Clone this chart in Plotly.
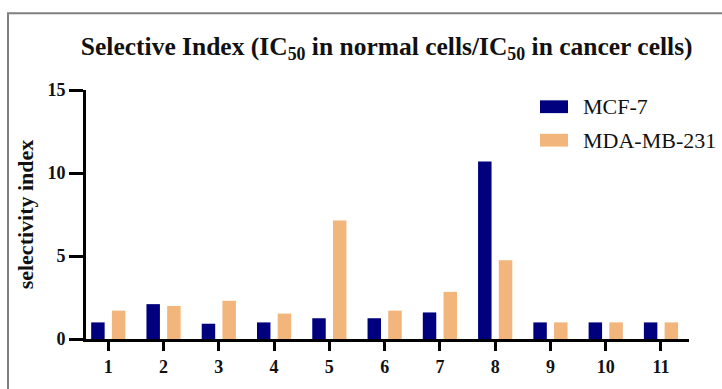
import plotly.graph_objects as go

categories = ["1", "2", "3", "4", "5", "6", "7", "8", "9", "10", "11"]
mcf7 = [1.0, 2.1, 0.92, 1.0, 1.25, 1.25, 1.6, 10.7, 1.0, 1.0, 1.0]
mda = [1.71, 1.99, 2.3, 1.53, 7.14, 1.71, 2.84, 4.74, 1.0, 1.0, 1.0]
series_names = ["MCF-7", "MDA-MB-231"]
y_ticks = [0, 5, 10, 15]

BLUE = "#00007F"
ORANGE = "#F2B57C"
SERIF = "Liberation Serif, Times New Roman, serif"

W, H = 722, 389
L, R, T, B = 86, 33, 90, 46
pw, ph = W - L - R, H - T - B


def px_x(p):
    return (p - L) / pw


def px_y(p):
    return (H - B - p) / ph


fig = go.Figure()
fig.add_trace(go.Bar(x=categories, y=mcf7, name=series_names[0], marker_color=BLUE,
                     marker_line_width=0, showlegend=False))
fig.add_trace(go.Bar(x=categories, y=mda, name=series_names[1], marker_color=ORANGE,
                     marker_line_width=0, showlegend=False))

# manual legend (wide swatches)
legend_rows = [(series_names[0], BLUE, 107), (series_names[1], ORANGE, 141)]
for name, col, yc in legend_rows:
    fig.add_shape(type="rect", xref="paper", yref="paper",
                  x0=px_x(540), x1=px_x(568), y0=px_y(yc + 6.5), y1=px_y(yc - 6.5),
                  fillcolor=col, line_width=0)
    fig.add_annotation(xref="paper", yref="paper", x=px_x(581), y=px_y(yc),
                       text=name, showarrow=False, xanchor="left", yanchor="middle",
                       font=dict(family=SERIF, size=22, color="#111111"))

# outer gray frame
fig.add_shape(type="rect", xref="paper", yref="paper",
              x0=px_x(8), x1=px_x(740), y0=px_y(400), y1=px_y(12),
              line=dict(color="#808080", width=2), fillcolor="rgba(0,0,0,0)")

fig.update_layout(
    width=W, height=H,
    margin=dict(l=L, r=R, t=T, b=B),
    paper_bgcolor="white", plot_bgcolor="white",
    barmode="group", bargap=0.25, bargroupgap=0.35,
    title=dict(text="Selective Index (IC<sub>50</sub> in normal cells/IC<sub>50</sub> in cancer cells)",
               x=386.7 / W, xanchor="center", y=1 - 46 / H, yanchor="middle",
               yref="container", xref="container",
               font=dict(family=SERIF, size=25.5, color="#111111", weight="bold")),
    xaxis=dict(type="category", range=[-0.403, 10.507],
               showline=True, linecolor="black", linewidth=3,
               ticks="outside", ticklen=9, tickwidth=3, tickcolor="black",
               tickfont=dict(family=SERIF, size=18, color="#111111", weight="bold"),
               showgrid=False, zeroline=False, fixedrange=True),
    yaxis=dict(range=[0, 15], tickvals=y_ticks,
               showline=True, linecolor="black", linewidth=3,
               ticks="outside", ticklen=14, tickwidth=3, tickcolor="black",
               tickfont=dict(family=SERIF, size=18, color="#111111", weight="bold"),
               title=dict(text="selectivity index", standoff=8,
                          font=dict(family=SERIF, size=22, color="#111111", weight="bold")),
               showgrid=False, zeroline=False, fixedrange=True),
)

fig.write_html("out.html")
